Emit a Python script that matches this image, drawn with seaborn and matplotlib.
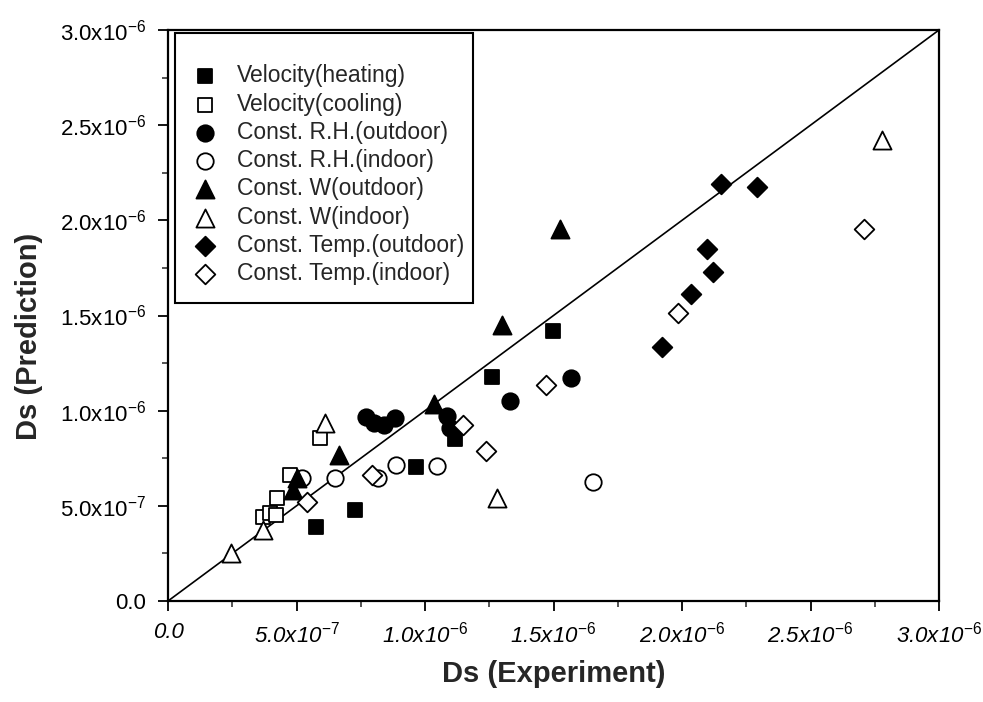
import numpy as np
import pandas as pd
import matplotlib
matplotlib.use("Agg")
import matplotlib.pyplot as plt
import seaborn as sns
from matplotlib.patches import Rectangle
from matplotlib.ticker import MultipleLocator, FuncFormatter

# Diffusion coefficients (units of 1e-6): experiment (x) vs prediction (y)
vel_heat_x = [0.576, 0.728, 0.964, 1.115, 1.259, 1.497]
vel_heat_y = [0.389, 0.478, 0.702, 0.853, 1.175, 1.419]

vel_cool_x = [0.370, 0.397, 0.420, 0.424, 0.475, 0.591]
vel_cool_y = [0.440, 0.462, 0.452, 0.541, 0.662, 0.857]

rh_out_x = [0.770, 0.800, 0.840, 0.885, 1.084, 1.096, 1.329, 1.568]
rh_out_y = [0.967, 0.935, 0.925, 0.962, 0.974, 0.911, 1.052, 1.172]

rh_in_x = [0.520, 0.650, 0.816, 0.886, 1.045, 1.652]
rh_in_y = [0.646, 0.646, 0.644, 0.712, 0.707, 0.623]

w_out_x = [0.487, 0.500, 0.665, 1.034, 1.300, 1.527]
w_out_y = [0.583, 0.646, 0.767, 1.037, 1.450, 1.953]

w_in_x = [0.245, 0.370, 0.611, 1.279, 2.779]
w_in_y = [0.251, 0.373, 0.935, 0.539, 2.422]

t_out_x = [1.922, 2.035, 2.097, 2.121, 2.152, 2.292]
t_out_y = [1.335, 1.613, 1.850, 1.729, 2.191, 2.176]

t_in_x = [0.540, 0.793, 1.146, 1.236, 1.471, 1.986, 2.709]
t_in_y = [0.520, 0.662, 0.925, 0.788, 1.135, 1.513, 1.955]

labels = ["Velocity(heating)", "Velocity(cooling)", "Const. R.H.(outdoor)",
          "Const. R.H.(indoor)", "Const. W(outdoor)", "Const. W(indoor)",
          "Const. Temp.(outdoor)", "Const. Temp.(indoor)"]
xs = [vel_heat_x, vel_cool_x, rh_out_x, rh_in_x, w_out_x, w_in_x, t_out_x, t_in_x]
ys = [vel_heat_y, vel_cool_y, rh_out_y, rh_in_y, w_out_y, w_in_y, t_out_y, t_in_y]

SCALE = 1e-6
frames = []
for lab, x, y in zip(labels, xs, ys):
    frames.append(pd.DataFrame({"experiment": np.array(x) * SCALE,
                                "prediction": np.array(y) * SCALE,
                                "series": lab}))
df = pd.concat(frames, ignore_index=True)

sns.set_theme(style="ticks")
plt.rcParams["font.family"] = ["Liberation Sans", "DejaVu Sans"]
plt.rcParams["mathtext.fontset"] = "custom"
plt.rcParams["mathtext.rm"] = "Liberation Sans"
plt.rcParams["mathtext.it"] = "Liberation Sans:italic"
plt.rcParams["mathtext.bf"] = "Liberation Sans:bold"

fig = plt.figure(figsize=(9.83, 7.02), dpi=100)
ax = fig.add_axes([168 / 983, 1 - 601 / 702, (939 - 168) / 983, (601 - 30) / 702])

styles = {
    "Velocity(heating)": ("s", "black", 110),
    "Velocity(cooling)": ("s", "white", 110),
    "Const. R.H.(outdoor)": ("o", "black", 140),
    "Const. R.H.(indoor)": ("o", "white", 140),
    "Const. W(outdoor)": ("^", "black", 170),
    "Const. W(indoor)": ("^", "white", 170),
    "Const. Temp.(outdoor)": ("D", "black", 100),
    "Const. Temp.(indoor)": ("D", "white", 100),
}

lim = 3.0e-6
ax.plot([0, lim], [0, lim], color="black", lw=1.2, zorder=1)

for lab in labels:
    m, fc, s = styles[lab]
    sub = df[df["series"] == lab]
    sns.scatterplot(data=sub, x="experiment", y="prediction", marker=m, s=s,
                    color=fc, edgecolor="black", linewidth=1.3, ax=ax,
                    label=lab, zorder=3)

ax.set_xlim(0, lim)
ax.set_ylim(0, lim)


def sci_fmt(v, pos):
    if abs(v) < 1e-12:
        return "0.0"
    exp = int(np.floor(np.log10(abs(v)) + 1e-9))
    mant = v / 10 ** exp
    return r"%.1fx10$^{%d}$" % (mant, exp)


ax.xaxis.set_major_locator(MultipleLocator(5e-7))
ax.yaxis.set_major_locator(MultipleLocator(5e-7))
ax.xaxis.set_minor_locator(MultipleLocator(2.5e-7))
ax.yaxis.set_minor_locator(MultipleLocator(2.5e-7))
ax.xaxis.set_major_formatter(FuncFormatter(sci_fmt))
ax.yaxis.set_major_formatter(FuncFormatter(sci_fmt))

ax.tick_params(which="major", direction="out", length=7, width=1.3,
               labelsize=16, colors="black")
ax.tick_params(axis="y", which="major", pad=9)
ax.tick_params(axis="x", which="major", pad=8)
ax.tick_params(which="minor", direction="out", length=4, width=1.1)
for t in ax.get_xticklabels():
    t.set_fontstyle("italic")

for sp in ax.spines.values():
    sp.set_linewidth(1.6)
    sp.set_color("black")

ax.set_xlabel("Ds (Experiment)", fontsize=21, fontweight="bold")
ax.set_ylabel("Ds (Prediction)", fontsize=21, fontweight="bold")
ax.xaxis.set_label_coords(0.5, -0.104)
ax.yaxis.set_label_coords(-0.162, 0.464)

# legend entries without a frame, boxed by a separate rectangle
leg = ax.legend(loc="upper left", bbox_to_anchor=(0.0363, 0.940), fontsize=16.5,
                frameon=False, borderpad=0.0, labelspacing=0.23,
                handletextpad=1.0, borderaxespad=0.0, handlelength=0.8)
box = Rectangle((0.009, 0.5219), 0.3865, 0.4728, transform=ax.transAxes,
                facecolor="white", edgecolor="black", lw=1.5, zorder=4)
ax.add_patch(box)
leg.set_zorder(5)

fig.savefig("out.png", dpi=100, facecolor="white")
